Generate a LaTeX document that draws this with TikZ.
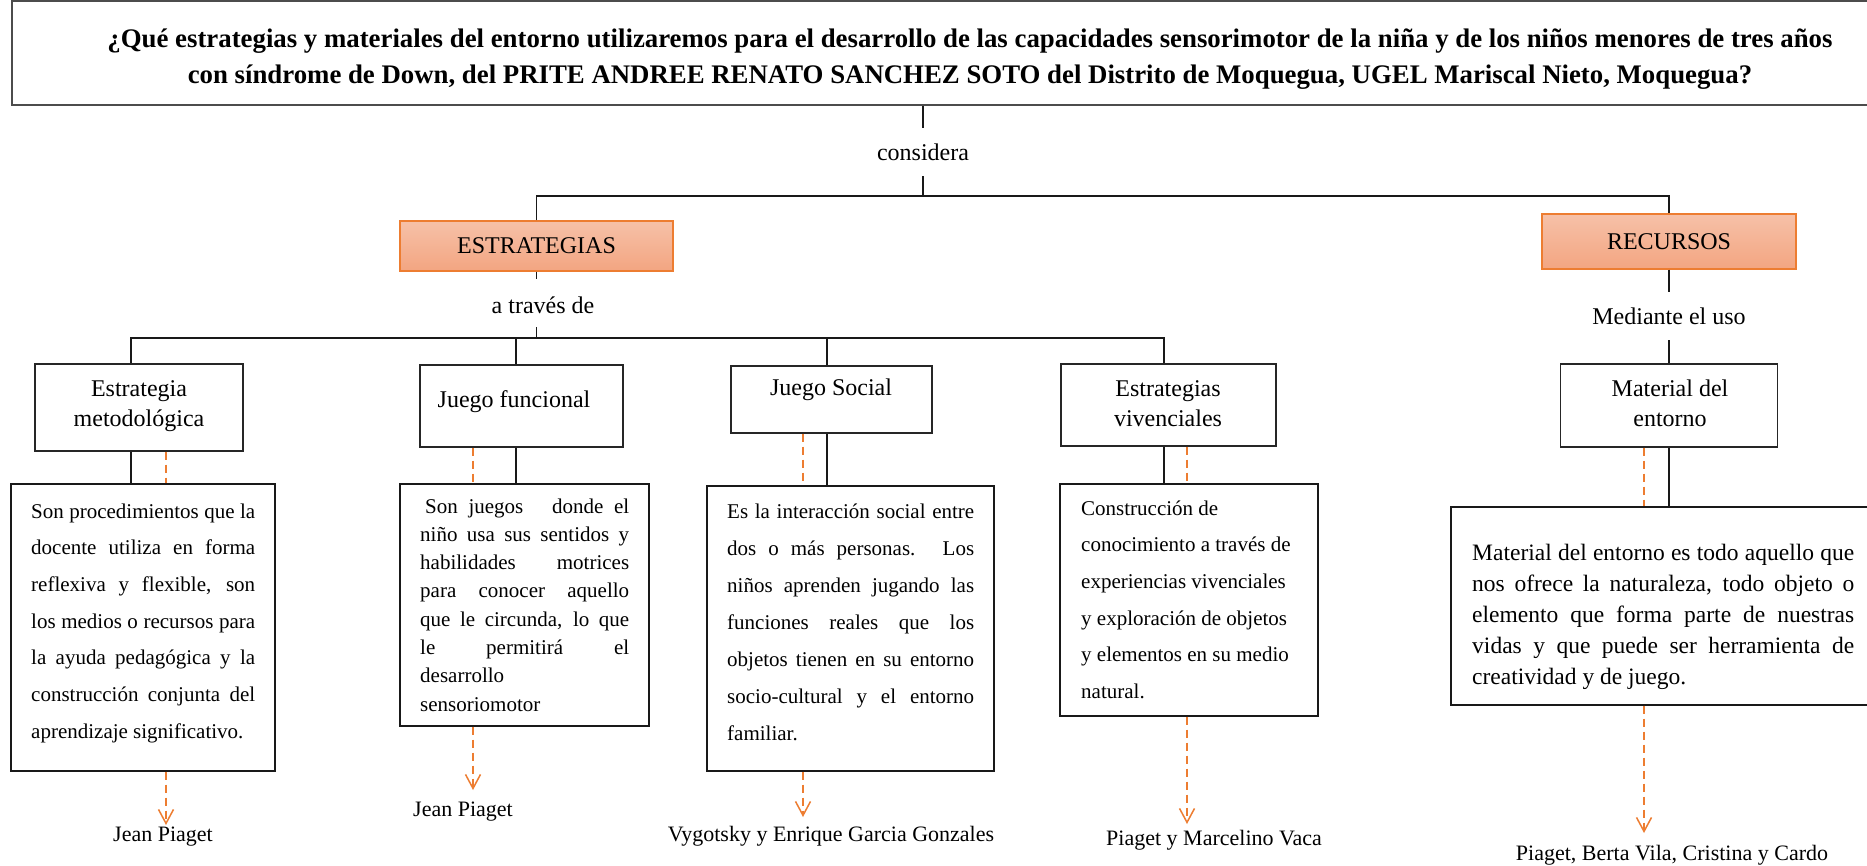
\documentclass[tikz,border=0pt]{standalone}
\usepackage{fontspec}
\setmainfont{Liberation Serif}
\usetikzlibrary{arrows.meta}
\definecolor{org}{HTML}{ED7D31}
\definecolor{otop}{HTML}{F6C1A8}
\definecolor{obot}{HTML}{F3A581}
\newcommand{\jl}[1]{\makebox[\linewidth][s]{#1}}
\newcommand{\myfs}[2]{\fontsize{#1}{#2}\selectfont}
\begin{document}
\begin{tikzpicture}[x=1pt,y=-1pt,
  conn/.style={line width=1.9pt, black!90},
  lbox/.style={draw=black!85, line width=1.3pt, fill=white, rectangle, inner sep=0pt},
  bigbox/.style={draw=black!90, line width=1.4pt, fill=white, rectangle, inner sep=0pt},
  obox/.style={draw=org, line width=1.2pt, top color=otop, bottom color=obot, inner sep=0pt, font=\myfs{24}{28}},
  mid/.style={inner xsep=2pt, inner ysep=0pt, font=\myfs{24}{28}},
  ltext/.style={anchor=base, inner sep=0pt},
  btext/.style={anchor=base west, inner sep=0pt},
  captxt/.style={inner sep=0pt, font=\myfs{22}{26}},
  dsh/.style={org, line width=1.5pt, dash pattern=on 8pt off 5pt},
  dsharr/.style={dsh, -{Straight Barb[length=14pt,width=15pt]}}
]
\useasboundingbox (0,0) rectangle (1867,866);
\clip (0,0) rectangle (1867,866);
\fill[white] (0,0) rectangle (1867,866);

% title
\node[draw=black!70, line width=1.2pt, minimum width=1916pt, minimum height=104pt, inner sep=0pt] (title) at (970,53) {};
\node[inner sep=0pt, align=center, font=\bfseries\myfs{26.8}{36}] (titletext) at (970,59)
  {¿Qué estrategias y materiales del entorno utilizaremos para el desarrollo de las capacidades sensorimotor de la niña y de los niños menores de tres años\\
   con síndrome de Down, del PRITE ANDREE RENATO SANCHEZ SOTO del Distrito de Moquegua, UGEL Mariscal Nieto, Moquegua?};

\node[mid, inner ysep=15.8pt] (cons) at (923,152) {considera};
\coordinate (h1) at (923,196);
\draw[conn] (title.south -| cons) -- (cons.north);
\draw[conn] (cons.south) -- (h1);

\node[obox, minimum width=273pt, minimum height=50pt] (estr) at (536.5,246) {ESTRATEGIAS};
\node[obox, minimum width=254pt, minimum height=55pt] (recu) at (1669,241.5) {RECURSOS};
\draw[conn] (estr.north) -- (estr.north |- h1) -- (recu.north |- h1) -- (recu.north);

% a traves de
\node[mid] (atr) at (543,305) {a través de};
\coordinate (j1) at (131,338);
\coordinate (j2) at (516,338);
\coordinate (j3) at (827,338);
\coordinate (j4) at (1164,338);
\draw[conn] (estr.south) -- ++(0,7);
\draw[conn] (estr.south |- j1) -- ++(0,-11);

% mediante
\node[mid, inner ysep=15.8pt] (med) at (1669,316) {Mediante el uso};
\draw[conn] (recu.south) -- (recu.south |- med.north);

% label boxes
\node[lbox, minimum width=208pt, minimum height=87pt] (lab1) at (139,407.5) {};
\node[lbox, minimum width=203pt, minimum height=82pt] (lab2) at (521.5,406) {};
\node[lbox, minimum width=201pt, minimum height=67pt] (lab3) at (831.5,399.5) {};
\node[lbox, minimum width=215pt, minimum height=82pt] (lab4) at (1168.5,405) {};
\node[lbox, minimum width=217pt, minimum height=83pt] (lab5) at (1669,405.5) {};

\node[ltext] (lab1t) at (139,396) {\parbox[t]{208pt}{\centering\myfs{24}{30}Estrategia\\metodológica}};
\node[ltext, font=\myfs{24}{30}] (lab2t) at (514,407) {Juego funcional};
\node[ltext, font=\myfs{24}{30}] (lab3t) at (831,395.5) {Juego Social};
\node[ltext] (lab4t) at (1168,396) {\parbox[t]{215pt}{\centering\myfs{24}{30}Estrategias\\vivenciales}};
\node[ltext] (lab5t) at (1670,396) {\parbox[t]{217pt}{\centering\myfs{24}{30}Material del\\entorno}};

\draw[conn] (j1 |- lab1.north) -- (j1) -- (j4) -- (j4 |- lab4.north);
\draw[conn] (j2) -- (j2 |- lab2.north);
\draw[conn] (j3) -- (j3 |- lab3.north);
\draw[conn] (recu.south |- med.south) -- (recu.south |- lab5.north);

% big boxes
\node[bigbox, minimum width=264pt, minimum height=287pt] (big1) at (143,627.5) {};
\node[bigbox, minimum width=249pt, minimum height=242pt] (big2) at (524.5,605) {};
\node[bigbox, minimum width=287pt, minimum height=285pt] (big3) at (850.5,628.5) {};
\node[bigbox, minimum width=258pt, minimum height=232pt] (big4) at (1189,600) {};
\node[bigbox, minimum width=424pt, minimum height=198pt] (big5) at (1663,606) {};

\draw[conn] (j1 |- lab1.south) -- (j1 |- big1.north);
\draw[conn] (j2 |- lab2.south) -- (j2 |- big2.north);
\draw[conn] (j3 |- lab3.south) -- (j3 |- big3.north);
\draw[conn] (j4 |- lab4.south) -- (j4 |- big4.north);
\draw[conn] (recu.south |- lab5.south) -- (recu.south |- big5.north);

% big box texts
\node[btext] (t1) at (31,518) {\parbox[t]{224pt}{\myfs{21}{36.7}%
\jl{Son procedimientos que la}\\
\jl{docente utiliza en forma}\\
\jl{reflexiva y flexible, son}\\
\jl{los medios o recursos para}\\
\jl{la ayuda pedagógica y la}\\
\jl{construcción conjunta del}\\
aprendizaje significativo.}};

\node[btext] (t2) at (420,513) {\parbox[t]{209pt}{\myfs{21}{28.3}%
\jl{\hspace*{5pt}Son juegos\hspace{18pt} donde el}\\
\jl{niño usa sus sentidos y}\\
\jl{habilidades motrices}\\
\jl{para conocer aquello}\\
\jl{que le circunda, lo que}\\
\jl{le permitirá el}\\
desarrollo\\
sensoriomotor}};

\node[btext] (t3) at (727,518) {\parbox[t]{247pt}{\myfs{21}{37}%
\jl{Es la interacción social entre}\\
\jl{dos o más personas. Los}\\
\jl{niños aprenden jugando las}\\
\jl{funciones reales que los}\\
\jl{objetos tienen en su entorno}\\
\jl{socio-cultural y el entorno}\\
familiar.}};

\node[btext] (t4) at (1081,515) {\parbox[t]{230pt}{\myfs{21}{36.7}%
Construcción de\\
conocimiento a través de\\
experiencias vivenciales\\
y exploración de objetos\\
y elementos en su medio\\
natural.}};

\node[btext] (t5) at (1472,560) {\parbox[t]{382pt}{\myfs{23.5}{31.2}%
\jl{Material del entorno es todo aquello que}\\
\jl{nos ofrece la naturaleza, todo objeto o}\\
\jl{elemento que forma parte de nuestras}\\
\jl{vidas y que puede ser herramienta de}\\
creatividad y de juego.}};

% captions
\node[captxt] (cap1) at (163,837) {Jean Piaget};
\node[captxt] (cap2) at (463,812) {Jean Piaget};
\node[captxt] (cap3) at (831,836) {Vygotsky y Enrique Garcia Gonzales};
\node[captxt] (cap4) at (1214,840) {Piaget y Marcelino Vaca};
\node[captxt] (cap5) at (1672,855) {Piaget, Berta Vila, Cristina y Cardo};

% dashed arrows
\coordinate (a1) at (166,825);
\coordinate (a2) at (473,790);
\coordinate (a3) at (803,817);
\coordinate (a4) at (1187,824);
\coordinate (a5) at (1644,833);
\draw[dsh] (a1 |- lab1.south) -- (a1 |- big1.north);
\draw[dsh] (a2 |- lab2.south) -- (a2 |- big2.north);
\draw[dsh] (a3 |- lab3.south) -- (a3 |- big3.north);
\draw[dsh] (a4 |- lab4.south) -- (a4 |- big4.north);
\draw[dsh] (a5 |- lab5.south) -- (a5 |- big5.north);
\draw[dsharr] (a1 |- big1.south) -- (a1);
\draw[dsharr] (a2 |- big2.south) -- (a2);
\draw[dsharr] (a3 |- big3.south) -- (a3);
\draw[dsharr] (a4 |- big4.south) -- (a4);
\draw[dsharr] (a5 |- big5.south) -- (a5);
\end{tikzpicture}
\end{document}
